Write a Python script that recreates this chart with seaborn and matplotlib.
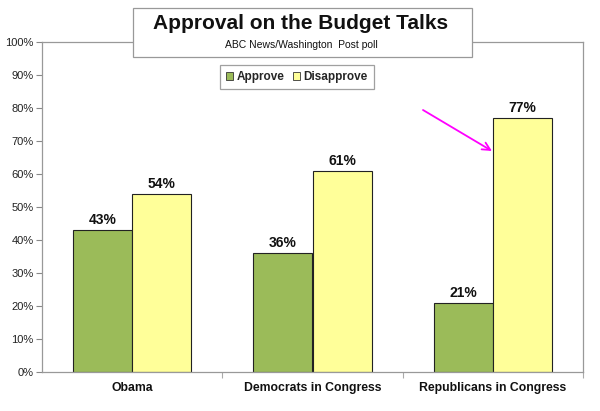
import matplotlib
matplotlib.use("Agg")
import matplotlib.pyplot as plt
import matplotlib.patches as mpatches
from matplotlib.ticker import FixedLocator, PercentFormatter
import seaborn as sns
import pandas as pd

categories = ["Obama", "Democrats in Congress", "Republicans in Congress"]
approve = [43, 36, 21]
disapprove = [54, 61, 77]
series_names = ["Approve", "Disapprove"]
title = "Approval on the Budget Talks"
subtitle = "ABC News/Washington  Post poll"

colors = ["#9BBB59", "#FFFF99"]

df = pd.DataFrame({
    "group": categories * 2,
    "value": approve + disapprove,
    "series": [series_names[0]] * 3 + [series_names[1]] * 3,
})

sns.set_style("white")
plt.rcParams["font.family"] = ["Liberation Sans", "DejaVu Sans"]

W, H = 600, 411
fig = plt.figure(figsize=(6, 4.11), dpi=100)
ax = fig.add_axes([42 / W, 1 - 372 / H, (583 - 42) / W, (372 - 42) / H])

sns.barplot(data=df, x="group", y="value", hue="series", order=categories,
            hue_order=series_names, palette=colors, width=0.655,
            edgecolor="#222222", linewidth=0.8, ax=ax, legend=False,
            errorbar=None, saturation=1)

for cont in ax.containers:
    ax.bar_label(cont, fmt="%d%%", fontsize=10, fontweight="bold", padding=2,
                 color="#111111")

ax.set_ylim(0, 100)
ax.set_xlim(-0.5, 2.5)
ax.set_xlabel("")
ax.set_ylabel("")
ax.set_yticks(range(0, 101, 10))
ax.yaxis.set_major_formatter(PercentFormatter(decimals=0))
ax.tick_params(axis="y", labelsize=8, colors="#888888", labelcolor="#222222",
               length=4, width=0.8, direction="out", left=True, pad=2)
ax.tick_params(axis="x", which="major", length=0, labelsize=8.8, pad=7,
               labelcolor="#111111")
for lbl in ax.get_xticklabels():
    lbl.set_fontweight("bold")
ax.xaxis.set_minor_locator(FixedLocator([0.5, 1.5, 2.5]))
ax.tick_params(axis="x", which="minor", length=4, width=0.8, colors="#aaaaaa",
               bottom=True, direction="out")
for sp in ax.spines.values():
    sp.set_color("#999999")
    sp.set_linewidth(0.9)
    sp.set_visible(True)
ax.grid(False)

# Title box
rect = mpatches.Rectangle((133 / W, 1 - 57 / H), (472 - 133) / W, 49 / H,
                          transform=fig.transFigure, facecolor="white",
                          edgecolor="#999999", linewidth=0.9, zorder=5)
fig.add_artist(rect)
fig.text(301 / W, 1 - 23.5 / H, title, ha="center", va="center", fontsize=15,
         fontweight="bold", color="#111111", zorder=6)
fig.text(301 / W, 1 - 44.5 / H, subtitle, ha="center", va="center", fontsize=7.5,
         color="#111111", zorder=6)

# Legend
handles = [mpatches.Patch(facecolor=c, edgecolor="#333333", linewidth=0.6)
           for c in colors]
leg = fig.legend(handles, series_names, loc="center",
                 bbox_to_anchor=(297 / W, 1 - 77 / H), ncol=2, frameon=True,
                 fancybox=False, edgecolor="#888888", handlelength=0.6,
                 handleheight=0.6, handletextpad=0.3, columnspacing=0.7,
                 borderpad=0.55, prop={"weight": "bold", "size": 8.5})
leg.get_frame().set_linewidth(0.9)

# Arrow
ax.annotate("", xy=(492 / W, 1 - 151 / H), xytext=(423 / W, 1 - 110 / H),
            xycoords="figure fraction", textcoords="figure fraction",
            arrowprops=dict(arrowstyle="->", color="#FF00FF", lw=1.3,
                            mutation_scale=14, shrinkA=0, shrinkB=0))

fig.savefig("out.png", dpi=100, facecolor="white")
